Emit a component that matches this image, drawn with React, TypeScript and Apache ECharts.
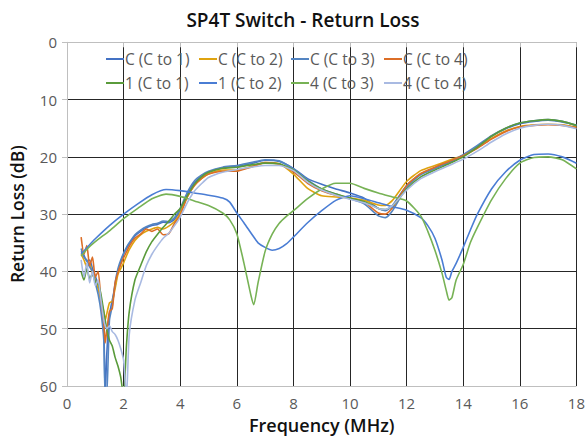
import React, { useEffect, useRef } from "react";
import * as echarts from "echarts";

const seriesNames = [
  "C (C to 1)",
  "C (C to 2)",
  "C (C to 3)",
  "C (C to 4)",
  "1 (C to 1)",
  "1 (C to 2)",
  "4 (C to 3)",
  "4 (C to 4)",
];

const xTicks = [0, 2, 4, 6, 8, 10, 12, 14, 16, 18];
const yTicks = [0, 10, 20, 30, 40, 50, 60];

const freqMain = [0.5, 0.6, 0.7, 0.8, 0.9, 1.0, 1.1, 1.2, 1.3, 1.35, 1.4, 1.5, 1.6, 1.7, 1.8, 1.9, 2.0, 2.1, 2.2, 2.4, 2.6, 2.8, 3.0, 3.2, 3.4, 3.6, 3.8, 4.0, 4.25, 4.5, 4.75, 5.0, 5.5, 6.0, 6.5, 7.0, 7.5, 8.0, 8.5, 9.0, 9.5, 10.0, 10.5, 11.0, 11.25, 11.5, 12.0, 12.5, 13.0, 13.5, 14.0, 14.5, 15.0, 15.5, 16.0, 16.5, 17.0, 17.5, 18.0];

const cTo1 = [36.5, 37.2, 38.2, 38.0, 39.5, 40.8, 42.5, 45.5, 50.0, 62, 55.0, 47.5, 45.0, 42.5, 40.0, 38.3, 37.0, 36.0, 35.2, 33.8, 33.0, 32.4, 32.0, 31.8, 31.4, 31.5, 30.9, 29.3, 26.5, 24.5, 23.4, 22.7, 21.9, 21.6, 21.2, 20.6, 20.8, 22.0, 23.8, 24.8, 25.6, 26.3, 27.2, 29.0, 29.4, 28.5, 25.0, 23.0, 22.0, 21.0, 19.8, 18.2, 16.4, 15.1, 14.2, 13.8, 13.6, 13.9, 14.5];
const cTo2 = [37.0, 38.0, 39.2, 38.6, 40.5, 41.5, 43.0, 45.0, 47.0, 48.5, 47.5, 45.5, 45.2, 43.0, 40.5, 39.5, 38.5, 37.3, 36.2, 34.6, 33.6, 33.0, 32.6, 32.3, 32.6, 32.1, 31.3, 29.8, 27.0, 25.0, 23.8, 23.0, 22.3, 22.3, 21.7, 21.0, 21.2, 23.0, 25.5, 26.8, 27.0, 27.2, 27.6, 28.4, 28.5, 27.6, 24.3, 22.4, 21.5, 20.6, 19.7, 18.4, 16.8, 15.5, 14.7, 14.4, 14.3, 14.4, 14.8];
const cTo3 = [36.0, 37.5, 38.0, 39.2, 40.0, 42.0, 44.0, 47.0, 52.0, 62, 62, 48.5, 46.0, 42.0, 39.5, 38.0, 36.8, 35.8, 35.0, 33.6, 32.8, 32.2, 31.8, 31.6, 31.2, 31.3, 30.6, 29.0, 26.2, 24.2, 23.2, 22.5, 21.8, 21.5, 21.0, 20.5, 20.7, 22.1, 24.0, 25.6, 26.5, 27.3, 28.2, 30.3, 30.6, 29.4, 25.3, 23.1, 22.0, 20.9, 19.6, 18.0, 16.3, 15.0, 14.1, 13.7, 13.5, 13.8, 14.5];
const cTo4 = [34.0, 37.0, 35.5, 39.0, 37.5, 41.0, 40.0, 45.0, 49.0, 52.5, 50.5, 47.0, 46.5, 42.0, 40.2, 38.8, 37.6, 36.6, 35.6, 34.2, 33.5, 32.6, 33.0, 32.6, 33.6, 33.4, 31.6, 30.2, 27.0, 25.0, 23.8, 23.0, 22.5, 22.5, 21.8, 21.0, 21.3, 22.6, 24.6, 25.9, 26.7, 27.2, 27.9, 29.8, 30.0, 28.9, 25.0, 22.9, 21.8, 20.8, 19.8, 18.5, 16.9, 15.6, 14.8, 14.5, 14.4, 14.5, 14.9];
const p1To1 = [40.0, 41.5, 39.5, 41.2, 40.5, 41.8, 42.2, 44.0, 47.0, 48.5, 50.0, 52.0, 53.0, 55.0, 56.5, 58.5, 62, 53.0, 47.0, 41.5, 39.0, 36.6, 34.8, 33.5, 32.3, 31.2, 30.0, 29.0, 26.8, 24.8, 23.5, 22.7, 22.0, 21.8, 21.4, 21.1, 21.2, 22.3, 24.2, 25.6, 26.5, 27.2, 27.8, 29.0, 29.2, 28.6, 25.6, 23.5, 22.3, 21.2, 20.0, 18.3, 16.4, 15.0, 14.1, 13.7, 13.5, 13.8, 14.5];
const p4To4 = [38.0, 41.0, 38.5, 42.0, 40.0, 42.5, 41.5, 45.0, 48.5, 49.5, 50.0, 49.5, 50.5, 51.0, 52.0, 53.5, 55.5, 62, 51.0, 45.0, 42.0, 39.0, 37.0, 35.5, 34.2, 33.3, 32.0, 30.5, 28.0, 26.0, 24.7, 23.6, 22.7, 22.2, 21.8, 21.5, 21.5, 22.4, 24.4, 25.8, 26.7, 27.4, 28.0, 29.0, 29.2, 28.5, 25.8, 23.8, 22.6, 21.5, 20.4, 19.0, 17.4, 16.0, 15.0, 14.5, 14.3, 14.5, 15.1];

const freqIso = [0.5, 0.75, 1.0, 1.5, 2.0, 2.5, 3.0, 3.5, 4.0, 4.5, 5.0, 5.5, 5.75, 6.0, 6.25, 6.5, 6.6, 6.75, 7.0, 7.25, 7.5, 7.75, 8.0, 8.5, 9.0, 9.5, 10.0, 10.5, 11.0, 11.5, 12.0, 12.5, 12.75, 13.0, 13.25, 13.4, 13.5, 13.6, 13.75, 14.0, 14.25, 14.5, 15.0, 15.5, 16.0, 16.5, 17.0, 17.5, 18.0];

const p1To2 = [37.0, 35.6, 34.3, 32.0, 30.0, 28.2, 26.6, 25.7, 25.9, 26.3, 26.7, 27.2, 27.9, 29.8, 31.5, 33.3, 34.0, 35.0, 35.8, 36.3, 36.0, 35.2, 34.0, 31.5, 29.4, 27.6, 26.8, 27.3, 28.0, 28.7, 29.3, 30.6, 32.0, 34.2, 38.0, 41.0, 41.4, 40.0, 38.6, 35.8, 32.8, 30.0, 25.6, 22.6, 20.6, 19.6, 19.5, 20.0, 21.1];
const p4To3 = [37.3, 35.9, 34.8, 32.9, 30.8, 29.0, 27.3, 26.5, 26.9, 27.7, 28.5, 29.8, 31.0, 33.4, 38.5, 44.2, 45.8, 42.0, 36.5, 33.5, 31.6, 30.4, 29.4, 27.3, 25.6, 24.6, 24.6, 25.5, 26.3, 27.0, 27.7, 30.3, 33.0, 36.3, 40.3, 43.3, 45.0, 44.6, 41.5, 38.8, 35.0, 32.3, 27.5, 23.8, 21.1, 20.1, 20.0, 20.5, 22.1];

const colors = ["#4472C4", "#DFA30F", "#5485C2", "#DC6E27", "#5A9B3B", "#4A7DD4", "#77B255", "#A9BAE2"];

const FONT = "'Open Sans', 'Noto Sans', sans-serif";

function pairs(xs: number[], ys: number[]) {
  return xs.map((x, i) => [x, ys[i]]);
}

export default function App() {
  const ref = useRef<HTMLDivElement>(null);

  useEffect(() => {
    if (!ref.current) return;
    const chart = echarts.init(ref.current, undefined, { renderer: "svg" });

    const dataSets = [
      pairs(freqMain, cTo1),
      pairs(freqMain, cTo2),
      pairs(freqMain, cTo3),
      pairs(freqMain, cTo4),
      pairs(freqMain, p1To1),
      pairs(freqIso, p1To2),
      pairs(freqIso, p4To3),
      pairs(freqMain, p4To4),
    ];

    const legendLeft = [106, 199, 291, 384];
    const legendTop = [51, 75];
    const legends = seriesNames.map((n, i) => ({
      data: [n],
      left: legendLeft[i % 4],
      top: legendTop[Math.floor(i / 4)],
      icon: "rect",
      itemWidth: 18,
      itemHeight: 2,
      itemGap: 0,
      padding: 0,
      selectedMode: false,
      textStyle: { color: "#595959", fontSize: 15.5, fontFamily: FONT, padding: [0, 0, 0, -4] },
    }));

    chart.setOption({
      animation: false,
      backgroundColor: "#ffffff",
      color: colors,
      title: {
        text: "SP4T Switch - Return Loss",
        left: 298,
        top: 5,
        textAlign: "center",
        textStyle: { color: "#111", fontSize: 19, fontWeight: 600, fontFamily: FONT },
      },
      legend: legends,
      grid: { left: 67, right: 10.5, top: 42.3, bottom: 53, containLabel: false },
      xAxis: {
        type: "value",
        min: 0,
        max: 18,
        interval: 2,
        name: "Frequency (MHz)",
        nameLocation: "middle",
        nameGap: 30,
        nameTextStyle: { color: "#111", fontSize: 18, fontWeight: 600, fontFamily: FONT },
        axisLine: { show: true, lineStyle: { color: "#BFBFBF", width: 1 } },
        axisTick: { show: true, length: 5, lineStyle: { color: "#BFBFBF" } },
        axisLabel: {
          color: "#595959",
          fontSize: 15,
          fontFamily: FONT,
          margin: 9,
          formatter: (v: number) => (xTicks.includes(v) ? String(v) : ""),
        },
        splitLine: { show: true, lineStyle: { color: "#262626", width: 1 } },
      },
      yAxis: {
        type: "value",
        inverse: true,
        min: 0,
        max: 60,
        interval: 10,
        name: "Return Loss (dB)",
        nameLocation: "middle",
        nameGap: 41,
        nameRotate: 90,
        nameTextStyle: { color: "#111", fontSize: 17.5, fontWeight: 600, fontFamily: FONT },
        axisLine: { show: true, lineStyle: { color: "#BFBFBF", width: 1 } },
        axisTick: { show: true, length: 5, lineStyle: { color: "#BFBFBF" } },
        axisLabel: {
          color: "#595959",
          fontSize: 15,
          fontFamily: FONT,
          margin: 10,
          formatter: (v: number) => (yTicks.includes(v) ? String(v) : ""),
        },
        splitLine: {
          show: true,
          lineStyle: {
            color: ["#BFBFBF", "#262626", "#262626", "#262626", "#262626", "#262626", "#BFBFBF"],
            width: 1,
          },
        },
      },
      series: seriesNames.map((n, i) => ({
        name: n,
        type: "line",
        data: dataSets[i],
        showSymbol: false,
        symbol: "none",
        smooth: 0.2,
        clip: true,
        lineStyle: { width: 1.6, color: colors[i] },
        itemStyle: { color: colors[i] },
        z: 2 + i,
      })),
    });

    return () => chart.dispose();
  }, []);

  return (
    <div
      ref={ref}
      style={{ position: "fixed", left: 0, top: 0, width: 588, height: 439 }}
    />
  );
}
